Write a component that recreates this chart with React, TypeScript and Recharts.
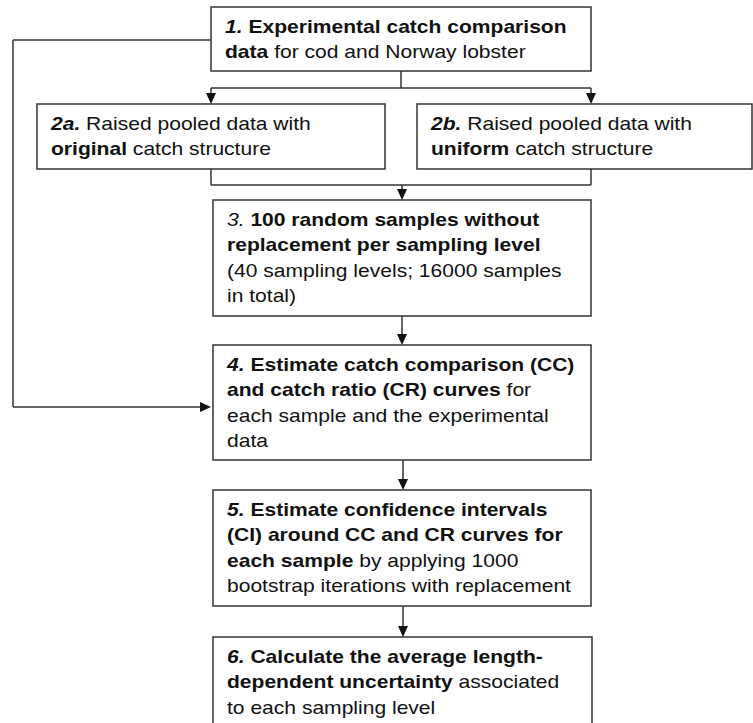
import { ComposedChart, XAxis, YAxis, ReferenceArea, ReferenceLine, Scatter } from 'recharts'

type Run = { t: string; b?: boolean; i?: boolean }

// text of each step, line by line (bold / italic runs)
const step1: Run[][] = [
  [{ t: '1.', b: true, i: true }, { t: ' Experimental catch comparison', b: true }],
  [{ t: 'data', b: true }, { t: ' for cod and Norway lobster' }]
]
const step2a: Run[][] = [
  [{ t: '2a.', b: true, i: true }, { t: ' Raised pooled data with' }],
  [{ t: 'original', b: true }, { t: ' catch structure' }]
]
const step2b: Run[][] = [
  [{ t: '2b.', b: true, i: true }, { t: ' Raised pooled data with' }],
  [{ t: 'uniform', b: true }, { t: ' catch structure' }]
]
const step3: Run[][] = [
  [{ t: '3.', i: true }, { t: ' 100 random samples without', b: true }],
  [{ t: 'replacement per sampling level', b: true }],
  [{ t: '(40 sampling levels; 16000 samples' }],
  [{ t: 'in total)' }]
]
const step4: Run[][] = [
  [{ t: '4.', b: true, i: true }, { t: ' Estimate catch comparison (CC)', b: true }],
  [{ t: 'and catch ratio (CR) curves', b: true }, { t: ' for' }],
  [{ t: 'each sample and the experimental' }],
  [{ t: 'data' }]
]
const step5: Run[][] = [
  [{ t: '5.', b: true, i: true }, { t: ' Estimate confidence intervals', b: true }],
  [{ t: '(CI) around CC and CR curves for', b: true }],
  [{ t: 'each sample', b: true }, { t: ' by applying 1000' }],
  [{ t: 'bootstrap iterations with replacement' }]
]
const step6: Run[][] = [
  [{ t: '6.', b: true, i: true }, { t: ' Calculate the average length-', b: true }],
  [{ t: 'dependent uncertainty', b: true }, { t: ' associated' }],
  [{ t: 'to each sampling level' }]
]

const stepText: Record<string, Run[][]> = {
  '1': step1, '2a': step2a, '2b': step2b, '3': step3, '4': step4, '5': step5, '6': step6
}

// layout in chart units (x 0-753, y 0-723 top down)
const boxes = [
  { id: '1', x1: 211, x2: 591, y1: 7, y2: 71 },
  { id: '2a', x1: 37, x2: 385, y1: 104, y2: 169 },
  { id: '2b', x1: 417, x2: 752, y1: 104, y2: 169 },
  { id: '3', x1: 213, x2: 591, y1: 200, y2: 316 },
  { id: '4', x1: 213, x2: 591, y1: 345, y2: 460 },
  { id: '5', x1: 213, x2: 591, y1: 490, y2: 606 },
  { id: '6', x1: 213, x2: 592, y1: 637, y2: 735 }
]

const links = [
  { x1: 211, y1: 40, x2: 13, y2: 40 },
  { x1: 13, y1: 40, x2: 13, y2: 407 },
  { x1: 13, y1: 407, x2: 201, y2: 407 },
  { x1: 401, y1: 71, x2: 401, y2: 88 },
  { x1: 211, y1: 88, x2: 591, y2: 88 },
  { x1: 211, y1: 88, x2: 211, y2: 94 },
  { x1: 591, y1: 88, x2: 591, y2: 94 },
  { x1: 211, y1: 169, x2: 211, y2: 185 },
  { x1: 591, y1: 169, x2: 591, y2: 185 },
  { x1: 211, y1: 185, x2: 591, y2: 185 },
  { x1: 402, y1: 185, x2: 402, y2: 190 },
  { x1: 402, y1: 316, x2: 402, y2: 335 },
  { x1: 403, y1: 460, x2: 403, y2: 480 },
  { x1: 403, y1: 606, x2: 403, y2: 627 }
]

const arrowTips = [
  { x: 211, y: 104, dir: 'down' },
  { x: 591, y: 104, dir: 'down' },
  { x: 402, y: 200, dir: 'down' },
  { x: 402, y: 345, dir: 'down' },
  { x: 403, y: 490, dir: 'down' },
  { x: 403, y: 637, dir: 'down' },
  { x: 211, y: 407, dir: 'right' }
]

const ink = '#333'
const font = '"Liberation Sans", Arial, sans-serif'

function BoxText({ viewBox, lines }: any) {
  const x = viewBox?.x ?? 0
  const y = viewBox?.y ?? 0
  return (
    <g transform={`translate(${x + 14},${y + 26}) scale(1.17,1)`}>
      {lines.map((line: Run[], k: number) => (
        <text key={k} x={0} y={k * 25.3} fontFamily={font} fontSize={18} fill="#111" style={{ whiteSpace: 'pre' }}>
          {line.map((r, j) => (
            <tspan key={j} fontWeight={r.b ? 700 : 400} fontStyle={r.i ? 'italic' : 'normal'}>{r.t}</tspan>
          ))}
        </text>
      ))}
    </g>
  )
}

function ArrowHead(props: any) {
  const { cx, cy, payload } = props
  const pts = payload.dir === 'right'
    ? `${cx},${cy} ${cx - 11},${cy - 5} ${cx - 11},${cy + 5}`
    : `${cx},${cy} ${cx - 5},${cy - 11} ${cx + 5},${cy - 11}`
  return <polygon points={pts} fill="#111" />
}

export default function App() {
  return (
    <div style={{ position: 'absolute', left: 0, top: 0, background: '#fff' }}>
      <ComposedChart width={753} height={723} margin={{ top: 0, right: 0, bottom: 0, left: 0 }}>
        <XAxis type="number" dataKey="x" domain={[0, 753]} hide />
        <YAxis type="number" dataKey="y" domain={[0, 723]} reversed hide />
        {links.map((l, k) => (
          <ReferenceLine
            key={'l' + k}
            segment={[{ x: l.x1, y: l.y1 }, { x: l.x2, y: l.y2 }]}
            stroke={ink}
            strokeWidth={1.5}
            ifOverflow="visible"
          />
        ))}
        {boxes.map((b) => (
          <ReferenceArea
            key={b.id}
            x1={b.x1}
            x2={b.x2}
            y1={b.y1}
            y2={b.y2}
            fill="#fff"
            fillOpacity={1}
            stroke={ink}
            strokeWidth={1.5}
            ifOverflow="visible"
            label={(p: any) => <BoxText viewBox={p.viewBox} lines={stepText[b.id]} />}
          />
        ))}
        <Scatter data={arrowTips} shape={<ArrowHead />} isAnimationActive={false} />
      </ComposedChart>
    </div>
  )
}
